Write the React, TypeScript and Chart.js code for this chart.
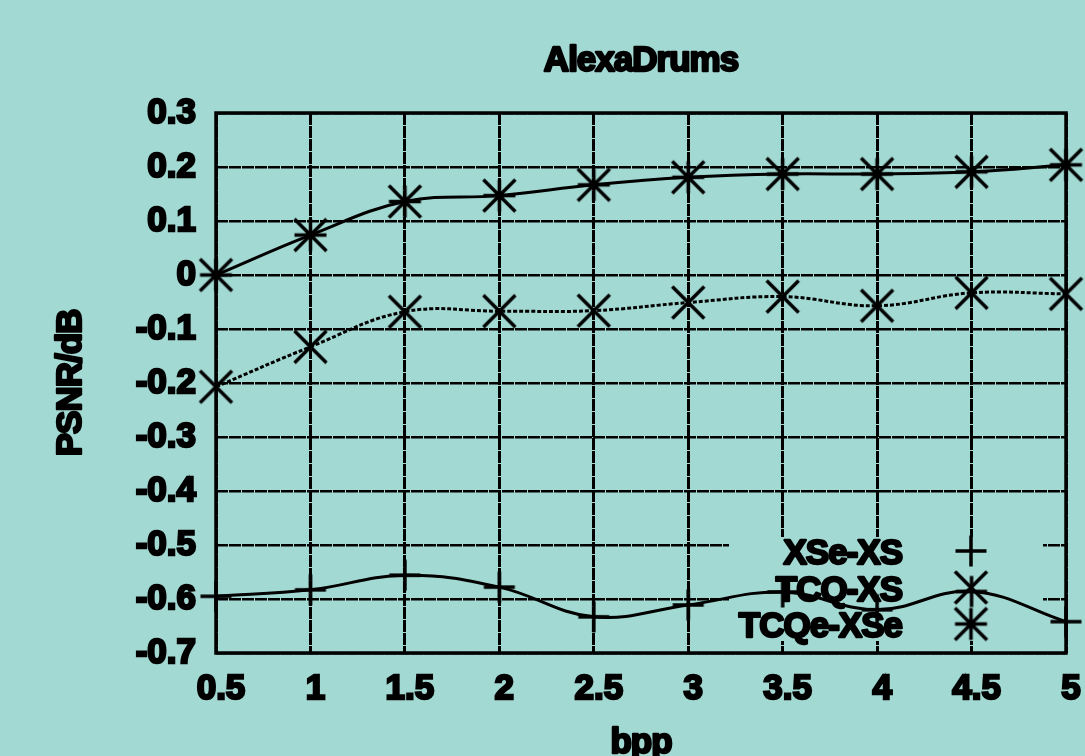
import React, { useEffect, useRef } from 'react';
import { Chart, registerables } from 'chart.js';

Chart.register(...registerables);

const TITLE = 'AlexaDrums';
const X_TITLE = 'bpp';
const Y_TITLE = 'PSNR/dB';

const bpp = [0.5, 1, 1.5, 2, 2.5, 3, 3.5, 4, 4.5, 5];
const xseXs = [-0.595, -0.583, -0.556, -0.578, -0.633, -0.611, -0.587, -0.62, -0.586, -0.642];
const tcqXs = [-0.207, -0.133, -0.068, -0.067, -0.066, -0.051, -0.04, -0.057, -0.033, -0.035];
const tcqeXse = [0.0, 0.074, 0.136, 0.147, 0.167, 0.181, 0.187, 0.187, 0.191, 0.204];

const seriesNames = ['XSe-XS', 'TCQ-XS', 'TCQe-XSe'];

const xTickValues = [0.5, 1, 1.5, 2, 2.5, 3, 3.5, 4, 4.5, 5];
const xTickLabels = ['0.5', '1', '1.5', '2', '2.5', '3', '3.5', '4', '4.5', '5'];
const yTickValues = [-0.7, -0.6, -0.5, -0.4, -0.3, -0.2, -0.1, 0, 0.1, 0.2, 0.3];
const yTickLabels = ['-0.7', '-0.6', '-0.5', '-0.4', '-0.3', '-0.2', '-0.1', '0', '0.1', '0.2', '0.3'];

const BG = '#a3d9d3';
const FONT_FAMILY = '"Liberation Sans", Arial, sans-serif';
const FONT_SIZE = 35;
const TEXT_STROKE = 2.4;

type MarkerKind = 'plus' | 'x' | 'star';

function makeMarker(kind: MarkerKind, half: number, lw: number): HTMLCanvasElement {
  const size = Math.ceil(half * 2 + lw * 2);
  const c = document.createElement('canvas');
  c.width = size;
  c.height = size;
  const g = c.getContext('2d')!;
  const m = size / 2;
  g.strokeStyle = '#000';
  g.lineWidth = lw;
  g.beginPath();
  if (kind !== 'x') {
    g.moveTo(m - half, m);
    g.lineTo(m + half, m);
    g.moveTo(m, m - half);
    g.lineTo(m, m + half);
  }
  if (kind !== 'plus') {
    g.moveTo(m - half, m - half);
    g.lineTo(m + half, m + half);
    g.moveTo(m - half, m + half);
    g.lineTo(m + half, m - half);
  }
  g.stroke();
  return c;
}

function toPoints(ys: number[]) {
  return bpp.map((x, i) => ({ x, y: ys[i] }));
}

export default function App() {
  const ref = useRef<HTMLCanvasElement | null>(null);

  useEffect(() => {
    const canvas = ref.current;
    if (!canvas) return;
    const markers = [
      makeMarker('plus', 15.5, 3.5),
      makeMarker('x', 16, 3.5),
      makeMarker('star', 16, 3.5),
    ];

    const drawText = (
      ctx: CanvasRenderingContext2D,
      text: string,
      x: number,
      y: number,
      align: CanvasTextAlign,
      rot = 0
    ) => {
      ctx.save();
      ctx.translate(x, y);
      if (rot) ctx.rotate(rot);
      ctx.font = `bold ${FONT_SIZE}px ${FONT_FAMILY}`;
      (ctx as any).letterSpacing = '-1px';
      ctx.textAlign = align;
      ctx.textBaseline = 'alphabetic';
      ctx.lineJoin = 'round';
      ctx.lineWidth = TEXT_STROKE;
      ctx.strokeStyle = '#000';
      ctx.fillStyle = '#000';
      ctx.strokeText(text, 0, 0);
      ctx.fillText(text, 0, 0);
      ctx.restore();
    };

    const decor = {
      id: 'gnuplotDecor',
      beforeDraw(chart: any) {
        const ctx = chart.ctx;
        ctx.save();
        ctx.fillStyle = BG;
        ctx.fillRect(0, 0, chart.width, chart.height);
        ctx.restore();
      },
      beforeDatasetsDraw(chart: any) {
        const ctx = chart.ctx;
        // opaque key box hiding the grid behind the legend
        ctx.save();
        ctx.fillStyle = BG;
        ctx.fillRect(729, 537, 1043 - 729, 641 - 537);
        ctx.restore();
      },
      afterDatasetsDraw(chart: any) {
        const ctx = chart.ctx;
        const a = chart.chartArea;
        ctx.save();
        ctx.strokeStyle = '#000';
        ctx.lineWidth = 3.5;
        ctx.setLineDash([]);
        ctx.strokeRect(a.left, a.top, a.right - a.left, a.bottom - a.top);
        ctx.restore();

        // legend
        const rows = [564, 600.5, 637];
        seriesNames.forEach((name, i) => {
          drawText(ctx, name, 902, rows[i], 'right');
          const mk = markers[i];
          ctx.drawImage(mk, 971 - mk.width / 2, rows[i] - 13 - mk.height / 2);
        });

        const cx = (a.left + a.right) / 2;
        drawText(ctx, TITLE, cx, 71, 'center');
        drawText(ctx, X_TITLE, cx, 753, 'center');
        drawText(ctx, Y_TITLE, 81, (a.top + a.bottom) / 2, 'center', -Math.PI / 2);
      },
    };

    const mkDataset = (label: string, ys: number[], marker: HTMLCanvasElement, dash: number[]) => ({
      label,
      data: toPoints(ys),
      borderColor: '#000',
      backgroundColor: '#000',
      borderWidth: 3,
      borderDash: dash,
      tension: 0.4,
      pointStyle: marker,
      pointRadius: 16,
      pointHoverRadius: 16,
      clip: false,
      fill: false,
    });

    const tickFont = { family: FONT_FAMILY, size: FONT_SIZE, weight: 'bold' };

    const chart = new Chart(canvas, {
      type: 'line',
      data: {
        datasets: [
          mkDataset(seriesNames[0], xseXs, markers[0], []),
          mkDataset(seriesNames[1], tcqXs, markers[1], [4, 2]),
          mkDataset(seriesNames[2], tcqeXse, markers[2], []),
        ],
      },
      options: {
        animation: false,
        responsive: false,
        devicePixelRatio: 1,
        events: [],
        layout: { padding: { top: 113, right: 19, left: 0, bottom: 0 } },
        plugins: {
          legend: { display: false },
          title: { display: false },
          tooltip: { enabled: false },
        },
        scales: {
          x: {
            type: 'linear',
            min: 0.5,
            max: 5,
            afterFit: (s: any) => {
              s.height = 103;
              s.paddingLeft = 0;
              s.paddingRight = 0;
            },
            afterBuildTicks: (s: any) => {
              s.ticks = xTickValues.map((v) => ({ value: v }));
            },
            grid: { color: '#000', lineWidth: 3, drawTicks: false },
            border: { display: false, dash: [12, 1] },
            ticks: {
              color: '#000',
              padding: 15,
              labelOffset: 5,
              maxRotation: 0,
              autoSkip: false,
              font: tickFont,
              textStrokeColor: '#000',
              textStrokeWidth: TEXT_STROKE,
              callback: (v: any) => {
                const i = xTickValues.findIndex((t) => Math.abs(t - Number(v)) < 1e-9);
                return i >= 0 ? xTickLabels[i] : '';
              },
            },
          },
          y: {
            type: 'linear',
            min: -0.7,
            max: 0.3,
            afterFit: (s: any) => {
              s.width = 216;
            },
            afterBuildTicks: (s: any) => {
              s.ticks = yTickValues.map((v) => ({ value: v }));
            },
            grid: { color: '#000', lineWidth: 2.5, drawTicks: false },
            border: { display: false, dash: [12, 1] },
            ticks: {
              color: '#000',
              padding: 20,
              autoSkip: false,
              font: tickFont,
              textStrokeColor: '#000',
              textStrokeWidth: TEXT_STROKE,
              callback: (v: any) => {
                const i = yTickValues.findIndex((t) => Math.abs(t - Number(v)) < 1e-9);
                return i >= 0 ? yTickLabels[i] : '';
              },
            },
          },
        },
      },
      plugins: [decor],
    } as any);

    return () => {
      chart.destroy();
    };
  }, []);

  return (
    <div style={{ position: 'fixed', left: 0, top: 0, width: 1085, height: 756, background: BG }}>
      <canvas ref={ref} width={1085} height={756} style={{ display: 'block', width: 1085, height: 756 }} />
    </div>
  );
}
